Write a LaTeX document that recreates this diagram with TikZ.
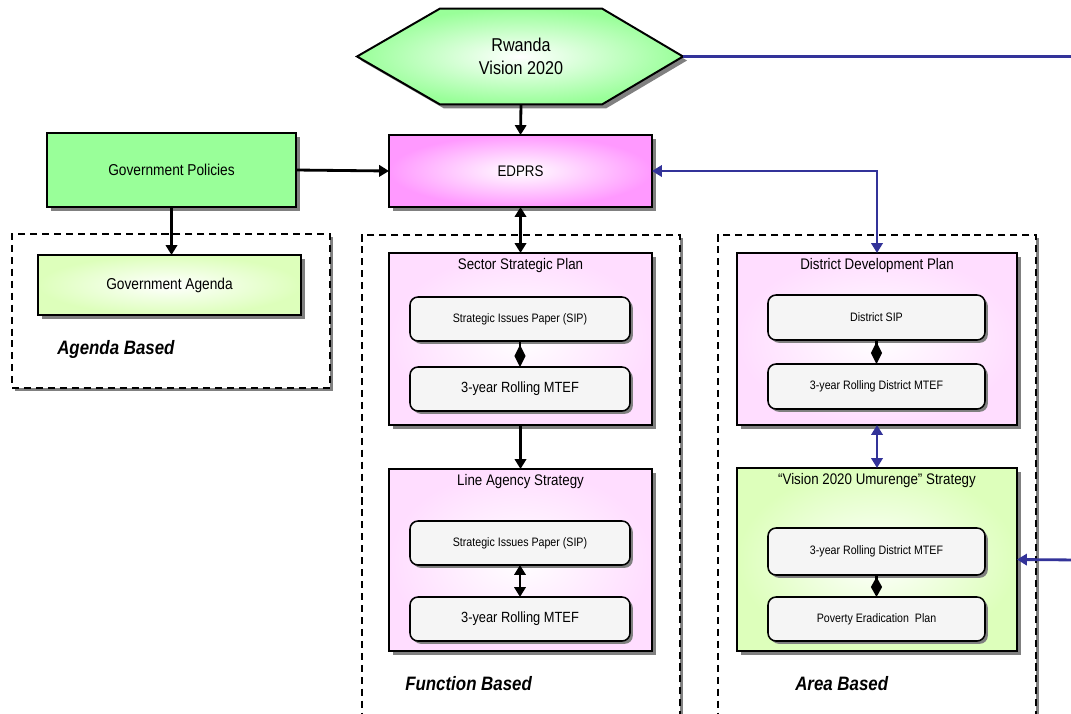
\documentclass[tikz,border=0pt]{standalone}
\usepackage{fontspec}
\setmainfont{Liberation Sans}[FakeStretch=0.87]
\usetikzlibrary{arrows.meta,positioning,shadows,backgrounds}
\definecolor{visiongreen}{HTML}{99FF99}
\definecolor{edprsmagenta}{HTML}{FF99FF}
\definecolor{planpink}{HTML}{FFDDFF}
\definecolor{paleleaf}{HTML}{DDFFBB}
\definecolor{paperwhite}{HTML}{F5F5F5}
\definecolor{linkblue}{HTML}{333399}
\definecolor{shadowgray}{HTML}{808080}
\tikzset{
    boxshadow/.style = {
        drop shadow={shadow xshift=0.1cm, shadow yshift=-0.1cm,
            fill=shadowgray, opacity=1}
    },
    smallshadow/.style = {
        drop shadow={shadow xshift=0.07cm, shadow yshift=-0.07cm,
            fill=shadowgray, opacity=1}
    },
    mainbox/.style = {
        rectangle,
        align=center,
        draw=black,
        line width=1.4pt,
        inner sep=1mm,
        outer sep=0mm,
        boxshadow
    },
    topbox/.style = {
        mainbox,
        minimum width=263*0.025cm,
        font=\fontsize{10.9}{12}\selectfont
    },
    groupbox/.style = {
        mainbox,
        minimum width=263*0.025cm
    },
    districtbox/.style = {
        mainbox,
        minimum width=280*0.025cm
    },
    grouptitle/.style = {
        inner sep=0pt,
        font=\fontsize{10.9}{12}\selectfont
    },
    paperbox/.style = {
        rectangle,
        rounded corners=2mm,
        draw=black,
        fill=paperwhite,
        line width=1.1pt,
        minimum height=1.1cm,
        inner sep=1mm,
        outer sep=0mm,
        smallshadow,
        font=\fontsize{8.7}{10}\selectfont
    },
    dashframe/.style = {
        rectangle,
        draw=black,
        fill=white,
        line width=1pt,
        dash pattern=on 5pt off 3.5pt,
        minimum width=318*0.025cm,
        drop shadow={shadow xshift=0.07cm, shadow yshift=-0.07cm,
            fill=shadowgray, opacity=1}
    },
    basedlabel/.style = {
        anchor=west,
        inner sep=0pt,
        font=\fontsize{13.8}{16}\selectfont\bfseries\itshape
    },
    link/.style = {
        line width=2pt,
        draw=black
    },
    bluelink/.style = {
        line width=2pt,
        draw=linkblue
    }
}
\begin{document}
\begin{tikzpicture}[
        x=0.025cm, y=-0.025cm,
        >={Triangle[length=7pt,width=8pt]}
    ]
    \useasboundingbox (0,0) rectangle (1071,713);

    % frames
    \node [dashframe, minimum height=154*0.025cm] (agendaframe) at (171,311) {};
    \node [dashframe, minimum height=500*0.025cm] (functionframe) at (521,485) {};
    \node [dashframe, minimum height=500*0.025cm] (areaframe) at (877,485) {};

    \node [basedlabel] (agendalabel) at (57,349) {Agenda Based};
    \node [basedlabel] (functionlabel) at (405,684) {Function Based};
    \node [basedlabel] (arealabel) at (795,684) {Area Based};

    % top row
    \node [align=center, inner sep=0pt, minimum width=162*0.025cm, minimum height=95*0.025cm,
        font=\fontsize{13.2}{16}\selectfont] (vision) at (521,56.5) {Rwanda\\Vision 2020};
    \begin{scope}[on background layer]
        \shadedraw [line width=1.4pt, inner color=white, outer color=visiongreen, boxshadow]
            (vision.north west) -- (vision.north east) -- (683,56.5) coordinate (hexeast)
            -- (vision.south east) -- (vision.south west) -- (357,56.5) -- cycle;
    \end{scope}
    \node [topbox, minimum height=72*0.025cm, inner color=white, outer color=edprsmagenta]
        (edprs) at (520.5,171) {EDPRS};
    \node [mainbox, minimum width=249*0.025cm, minimum height=74*0.025cm, fill=visiongreen,
        font=\fontsize{11.2}{12}\selectfont] (govpolicies) at (171.5,170) {Government Policies};
    \node [mainbox, minimum width=263*0.025cm, minimum height=60*0.025cm,
        inner color=white, outer color=paleleaf,
        font=\fontsize{11.2}{12}\selectfont] (govagenda) at (169.5,285) {Government Agenda};

    % function based
    \node [groupbox, minimum height=172*0.025cm, inner color=white, outer color=planpink]
        (sectorplan) at (520.5,339) {};
    \node [grouptitle, below=0.13cm of sectorplan.north] (sectortitle) {Sector Strategic Plan};
    \node [paperbox, minimum width=220*0.025cm] (sectorsip) at (520,319) {Strategic Issues Paper (SIP)};
    \node [paperbox, minimum width=220*0.025cm, font=\fontsize{10.5}{12}\selectfont]
        (sectormtef) at (520,389) {3-year Rolling MTEF};

    \node [groupbox, minimum height=182*0.025cm, inner color=white, outer color=planpink]
        (lineagency) at (520.5,560) {};
    \node [grouptitle, below=0.13cm of lineagency.north] (agencytitle) {Line Agency Strategy};
    \node [paperbox, minimum width=220*0.025cm] (agencysip) at (520,543) {Strategic Issues Paper (SIP)};
    \node [paperbox, minimum width=220*0.025cm, font=\fontsize{10.5}{12}\selectfont]
        (agencymtef) at (520,619) {3-year Rolling MTEF};

    % area based
    \node [districtbox, minimum height=172*0.025cm, inner color=white, outer color=planpink]
        (districtplan) at (877,339) {};
    \node [grouptitle, below=0.13cm of districtplan.north] (districttitle) {District Development Plan};
    \node [paperbox, minimum width=217*0.025cm, minimum height=45*0.025cm] (districtsip) at (876.5,317.5) {District SIP};
    \node [paperbox, minimum width=217*0.025cm, minimum height=45*0.025cm] (districtmtef) at (876.5,386.5) {3-year Rolling District MTEF};

    \node [districtbox, minimum height=183*0.025cm, inner color=white, outer color=paleleaf]
        (umurenge) at (877,559.5) {};
    \node [grouptitle, below=0.13cm of umurenge.north] (umurengetitle) {``Vision 2020 Umurenge'' Strategy};
    \node [paperbox, minimum width=217*0.025cm, minimum height=47*0.025cm] (umurengemtef) at (876.5,551.5) {3-year Rolling District MTEF};
    \node [paperbox, minimum width=217*0.025cm] (poverty) at (876.5,619) {Poverty Eradication~~Plan};

    % connectors
    \draw [link, ->] (vision.south) -- (edprs.north);
    \draw [link, ->] (govpolicies.east) -- (edprs.west);
    \draw [link, ->] (govpolicies.south) -- (govpolicies.south |- govagenda.north);
    \draw [link, <->] (edprs.south) -- (sectorplan.north);
    \draw [link, ->] (sectorplan.south) -- (lineagency.north);
    \draw [link, -{Diamond[length=0.55cm,width=0.28cm]}] (sectorsip.south) -- (sectormtef.north);
    \draw [link, <->] (agencysip.south) -- (agencymtef.north);
    \draw [link, -{Diamond[length=0.55cm,width=0.28cm]}] (districtsip.south) -- (districtmtef.north);
    \draw [link, -{Diamond[length=0.5cm,width=0.28cm]}] (umurengemtef.south) -- (poverty.north);

    \coordinate (visionout) at (1080,56.5);
    \coordinate (umurengein) at (1080,560);
    \draw [bluelink] (hexeast) -- (visionout);
    \draw [bluelink, <->] (edprs.east) -| (districtplan.north);
    \draw [bluelink, <->] (districtplan.south) -- (umurenge.north);
    \draw [bluelink, ->] (umurengein) -- (umurenge.east);
\end{tikzpicture}
\end{document}
